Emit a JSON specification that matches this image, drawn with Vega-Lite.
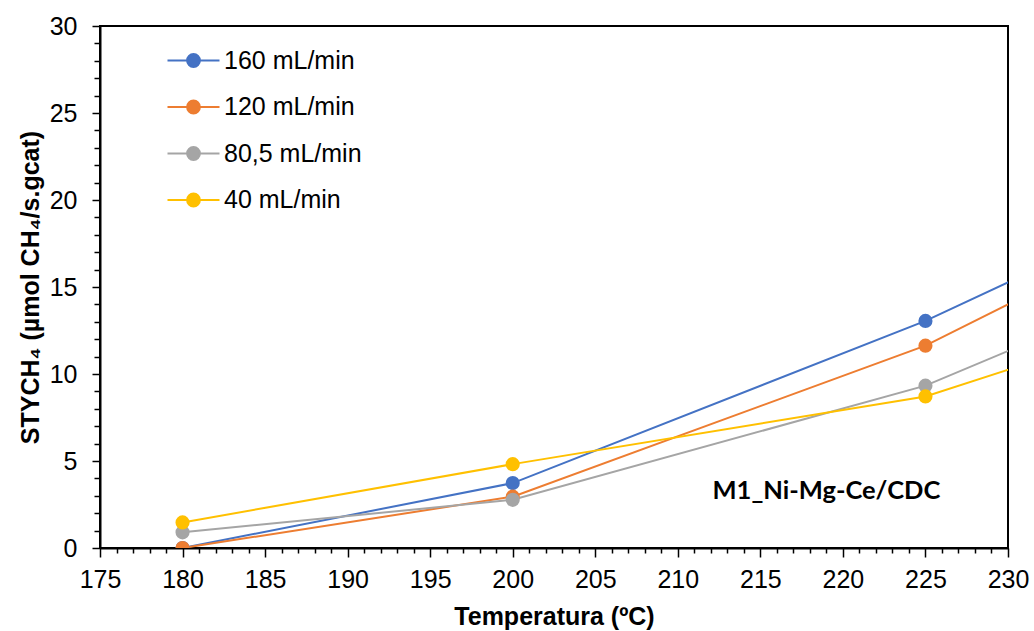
{
  "$schema": "https://vega.github.io/schema/vega-lite/v6.json",
  "width": 908,
  "height": 522,
  "autosize": "none",
  "padding": {"left": 100, "top": 26, "right": 26, "bottom": 83},
  "background": "white",
  "config": {
    "view": {"stroke": "black", "strokeWidth": 2},
    "font": "Liberation Sans",
    "axis": {"grid": false, "domainColor": "black", "domainWidth": 2, "tickColor": "black", "tickWidth": 1.5, "labelColor": "black", "titleColor": "black", "labelFont": "Liberation Sans", "titleFont": "Liberation Sans", "labelFlush": false}
  },
  "data": {
    "values": [
      {"T": 180, "v": 0, "s": "160 mL/min"},
      {"T": 200, "v": 3.73, "s": "160 mL/min"},
      {"T": 225, "v": 13.05, "s": "160 mL/min"},
      {"T": 250, "v": 24.1, "s": "160 mL/min"},
      {"T": 180, "v": 0, "s": "120 mL/min"},
      {"T": 200, "v": 2.95, "s": "120 mL/min"},
      {"T": 225, "v": 11.63, "s": "120 mL/min"},
      {"T": 250, "v": 23.5, "s": "120 mL/min"},
      {"T": 180, "v": 0.9, "s": "80,5 mL/min"},
      {"T": 200, "v": 2.77, "s": "80,5 mL/min"},
      {"T": 225, "v": 9.33, "s": "80,5 mL/min"},
      {"T": 250, "v": 19.3, "s": "80,5 mL/min"},
      {"T": 180, "v": 1.47, "s": "40 mL/min"},
      {"T": 200, "v": 4.82, "s": "40 mL/min"},
      {"T": 225, "v": 8.71, "s": "40 mL/min"},
      {"T": 250, "v": 16.4, "s": "40 mL/min"}
    ]
  },
  "encoding": {
    "x": {
      "field": "T", "type": "quantitative",
      "scale": {"domain": [175, 230], "nice": false, "zero": false},
      "axis": {
        "values": [175,176,177,178,179,180,181,182,183,184,185,186,187,188,189,190,191,192,193,194,195,196,197,198,199,200,201,202,203,204,205,206,207,208,209,210,211,212,213,214,215,216,217,218,219,220,221,222,223,224,225,226,227,228,229,230],
        "tickCount": 200,
        "format": "d",
        "labelExpr": "datum.value % 5 === 0 ? datum.label : ''",
        "tickSize": {"condition": {"test": "datum.value % 5 === 0", "value": 9}, "value": 5},
        "labelOverlap": false,
        "labelFlush": false,
        "labelFontSize": 25,
        "labelPadding": 10,
        "title": "Temperatura (ºC)",
        "titleFontSize": 25,
        "titleFontWeight": "bold",
        "titlePadding": 12
      }
    },
    "y": {
      "field": "v", "type": "quantitative",
      "scale": {"domain": [0, 30], "nice": false},
      "axis": {
        "values": [0,1,2,3,4,5,6,7,8,9,10,11,12,13,14,15,16,17,18,19,20,21,22,23,24,25,26,27,28,29,30],
        "tickCount": 200,
        "format": "d",
        "labelExpr": "datum.value % 5 === 0 ? datum.label : ''",
        "tickSize": {"condition": {"test": "datum.value % 5 === 0", "value": 8}, "value": 6},
        "labelOverlap": false,
        "labelFlush": false,
        "labelFontSize": 25,
        "labelPadding": 15,
        "title": "STYCH₄ (µmol CH₄/s.gcat)",
        "titleFontSize": 25,
        "titleFontWeight": "bold",
        "titlePadding": 6
      }
    }
  },
  "layer": [
    {
      "mark": {"type": "line", "strokeWidth": 2, "clip": true},
      "encoding": {
        "color": {
          "field": "s", "type": "nominal",
          "scale": {"domain": ["160 mL/min", "120 mL/min", "80,5 mL/min", "40 mL/min"], "range": ["#4472C4", "#ED7D31", "#A5A5A5", "#FFC000"]},
          "legend": {
            "orient": "none",
            "legendX": 81,
            "legendY": 22,
            "title": null,
            "padding": 0,
            "symbolType": "M-3.25,0H-0.8M0.8,0H3.25M0.8,0A0.8,0.8,0,1,1,-0.8,0A0.8,0.8,0,1,1,0.8,0Z",
            "symbolSize": 256,
            "symbolStrokeWidth": 2,
            "labelFontSize": 25,
            "labelColor": "black",
            "labelFont": "Liberation Sans",
            "labelOffset": 18,
            "rowPadding": 20.5,
            "encode": {"symbols": {"update": {"fill": {"scale": "color", "field": "value"}, "stroke": {"scale": "color", "field": "value"}, "opacity": {"value": 1}}}}
          }
        }
      }
    },
    {
      "mark": {"type": "point", "filled": true, "size": 200, "opacity": 1, "clip": true},
      "encoding": {
        "color": {"field": "s", "type": "nominal", "legend": null}
      }
    },
    {
      "data": {"values": [{"T": 219, "v": 3.3, "t": "M1_Ni-Mg-Ce/CDC"}]},
      "mark": {"type": "text", "font": "Lato", "fontWeight": "bold", "fontSize": 25.5, "color": "black"},
      "encoding": {
        "text": {"field": "t"}
      }
    }
  ]
}
